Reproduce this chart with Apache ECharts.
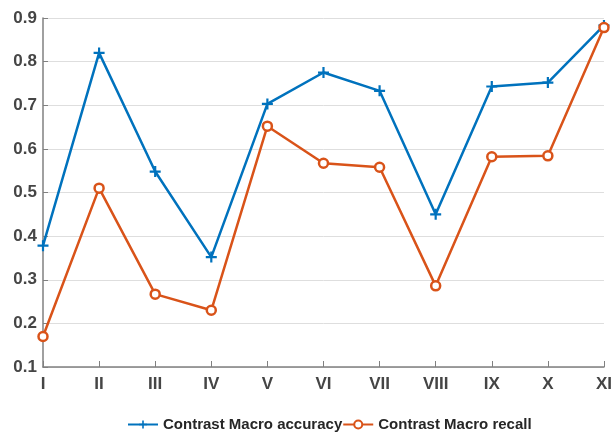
<!DOCTYPE html>
<html>
<head>
<meta charset="utf-8">
<script src="https://cdn.jsdelivr.net/npm/echarts@6/dist/echarts.min.js"></script>
<style>
  html, body { margin: 0; padding: 0; background: #fff; }
  #main { width: 615px; height: 432px; }
</style>
</head>
<body>
<div id="main"></div>
<script>
// categories on x axis
const categories = ['I', 'II', 'III', 'IV', 'V', 'VI', 'VII', 'VIII', 'IX', 'X', 'XI'];
// values
const accuracy = [0.378, 0.820, 0.548, 0.352, 0.703, 0.775, 0.733, 0.450, 0.743, 0.752, 0.883];
const recall = [0.170, 0.510, 0.267, 0.230, 0.652, 0.567, 0.558, 0.286, 0.582, 0.584, 0.878];

const chart = echarts.init(document.getElementById('main'));
const fontFam = '"Liberation Sans", Arial, sans-serif';

chart.setOption({
    animation: false,
    textStyle: { fontFamily: fontFam },
    grid: { left: 43, right: 8, top: 18, bottom: 65 },
    legend: {
        bottom: -5,
        left: 122,
        itemGap: 0,
        itemWidth: 30,
        itemHeight: 10,
        textStyle: { fontSize: 15, fontWeight: 'bold', color: '#262626', fontFamily: fontFam },
        data: ['Contrast Macro accuracy', 'Contrast Macro recall']
    },
    xAxis: {
        type: 'category',
        data: categories,
        boundaryGap: false,
        axisLine: { lineStyle: { color: '#808080', width: 1.5 } },
        axisTick: { inside: true, length: 6, lineStyle: { color: '#808080' } },
        axisLabel: { color: '#454545', fontSize: 17, fontWeight: 'bold', margin: 9 }
    },
    yAxis: {
        type: 'value',
        min: 0.1,
        max: 0.9,
        interval: 0.1,
        axisLine: { show: true, lineStyle: { color: '#808080', width: 1.5 } },
        axisTick: { show: true, inside: true, length: 5, lineStyle: { color: '#808080' } },
        axisLabel: { color: '#454545', fontSize: 17, fontWeight: 'bold', margin: 6,
            formatter: v => v.toFixed(1) },
        splitLine: { lineStyle: { color: '#dedede', width: 1 } }
    },
    series: [
        {
            name: 'Contrast Macro accuracy',
            type: 'line',
            data: accuracy,
            symbol: 'path://M4,0 L6,0 L6,4 L10,4 L10,6 L6,6 L6,10 L4,10 L4,6 L0,6 L0,4 L4,4 Z',
            symbolSize: 11,
            lineStyle: { color: '#0072BD', width: 2.5 },
            itemStyle: { color: '#0072BD' }
        },
        {
            name: 'Contrast Macro recall',
            type: 'line',
            data: recall,
            symbol: 'circle',
            symbolSize: 9,
            lineStyle: { color: '#D95319', width: 2.5 },
            itemStyle: { color: '#fff', borderColor: '#D95319', borderWidth: 2.5 }
        }
    ]
});
</script>
</body>
</html>
